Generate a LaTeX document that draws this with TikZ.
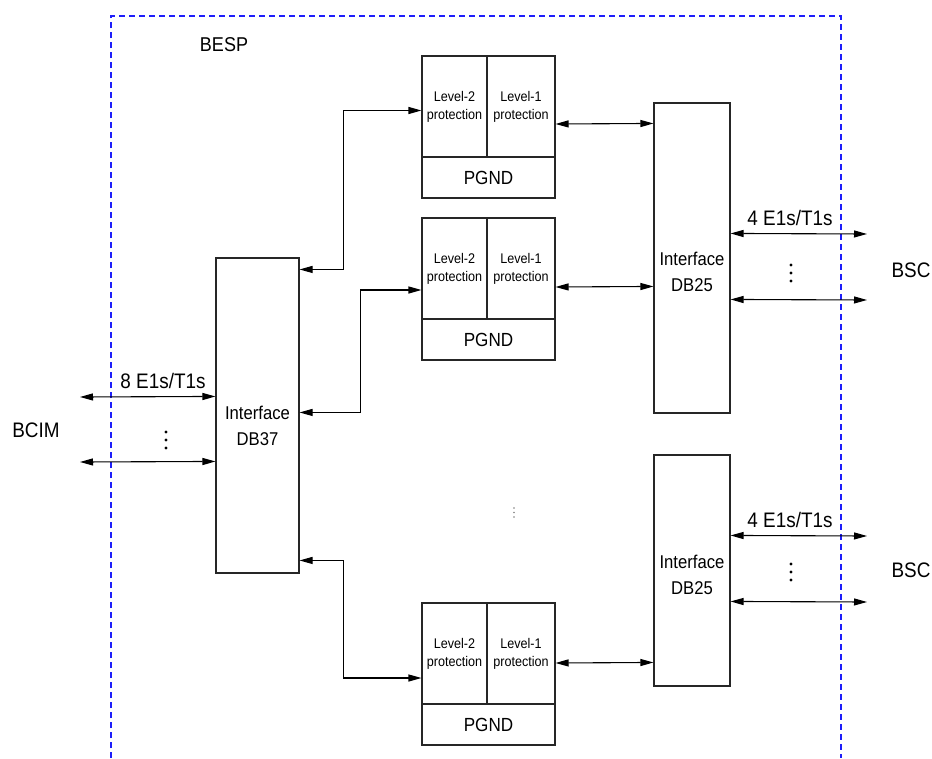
\documentclass[tikz,border=0pt]{standalone}
\usepackage{fontspec}
\setmainfont{Liberation Sans}[FakeStretch=0.9]
\usetikzlibrary{arrows.meta,calc}
\definecolor{dashblue}{RGB}{30,30,250}
\begin{document}
\begin{tikzpicture}[x=1pt,y=-1pt,
  box/.style={draw=black!85,line width=1.1pt,inner sep=0pt},
  cella/.style={box,minimum width=65,minimum height=101,align=center,font=\fontsize{14}{18}\selectfont},
  cellb/.style={box,minimum width=68,minimum height=101,align=center,font=\fontsize{14}{18}\selectfont},
  cellg/.style={box,minimum width=133,minimum height=41,font=\fontsize{19}{22}\selectfont},
  iface/.style={align=center,font=\fontsize{18.5}{26}\selectfont,inner sep=0pt},
  big/.style={font=\fontsize{21}{25}\selectfont,inner sep=0pt},
  arr/.style={line width=1.1pt,{Triangle[length=13pt,width=7pt]}-{Triangle[length=13pt,width=7pt]}},
  dashbox/.style={draw=dashblue,line width=1.1pt,dash pattern=on 6pt off 4pt}]
\useasboundingbox (0,0) rectangle (932,758);

% dashed enclosure
\draw[dashbox] (111,758) -- (111,16) -- (841,16) -- (841,758);
\node[big,font=\fontsize{20}{24}\selectfont] (besp) at (224,45) {BESP};

% protection boxes
\node[cella] (p1a) at (454.5,106.5) {Level-2\\protection};
\node[cellb] (p1b) at (521,106.5) {Level-1\\protection};
\node[cellg] (p1g) at (488.5,177.5) {PGND};

\node[cella] (p2a) at (454.5,268.5) {Level-2\\protection};
\node[cellb] (p2b) at (521,268.5) {Level-1\\protection};
\node[cellg] (p2g) at (488.5,339.5) {PGND};

\node[cella] (p3a) at (454.5,653.5) {Level-2\\protection};
\node[cellb] (p3b) at (521,653.5) {Level-1\\protection};
\node[cellg] (p3g) at (488.5,724.5) {PGND};

% interface boxes
\node[box,minimum width=83,minimum height=315] (db37) at (257.5,415.5) {};
\node[iface] (db37t) at (257.5,426) {Interface\\DB37};

\node[box,minimum width=76,minimum height=310] (db25a) at (692,258) {};
\node[iface] (db25at) at (692,271.5) {Interface\\DB25};

\node[box,minimum width=76,minimum height=231] (db25b) at (692,570.5) {};
\node[iface] (db25bt) at (692,574.5) {Interface\\DB25};

% DB37 to protection boxes
\draw[arr] ($(db37.north east)+(0,12)$) -- ++(44,0) |- ($(p1a.west)+(0,4)$);
\draw[arr] ($(db37.north east)+(0,155)$) -- ++(61,0) |- ($(p2a.west)+(0,21.5)$);
\draw[arr] ($(db37.north east)+(0,303)$) -- ++(44,0) |- ($(p3a.west)+(0,24.5)$);

% protection to DB25
\draw[arr] ($(p1b.east)+(0,17.5)$) -- ($(db25a.north west)+(0,21)$);
\draw[arr] ($(p2b.east)+(0,18.5)$) -- ($(db25a.north west)+(0,184)$);
\draw[arr] ($(p3b.east)+(0,9.5)$) -- ($(db25b.north west)+(0,208)$);

% left side links
\coordinate (l1) at (80,397);
\coordinate (l2) at (80,462);
\draw[arr] (l1) -- ($(db37.north west)+(0,139)$);
\draw[arr] (l2) -- ($(db37.north west)+(0,204)$);
\node[big] (lab8) at (163,381) {8 E1s/T1s};
\fill (166,432) circle (1.7) (166,440) circle (1.7) (166,448) circle (1.7);
\node[big] (bcim) at (36,430) {BCIM};

% right side links, upper
\coordinate (r1) at (867,234);
\coordinate (r2) at (867,300);
\draw[arr] ($(db25a.north east)+(0,131)$) -- (r1);
\draw[arr] ($(db25a.north east)+(0,197)$) -- (r2);
\node[big] (lab4a) at (790,218) {4 E1s/T1s};
\fill (791,265) circle (1.7) (791,273) circle (1.7) (791,281) circle (1.7);
\node[big] (bsca) at (911,270) {BSC};

% right side links, lower
\coordinate (r3) at (867,536);
\coordinate (r4) at (867,602);
\draw[arr] ($(db25b.north east)+(0,81)$) -- (r3);
\draw[arr] ($(db25b.north east)+(0,147)$) -- (r4);
\node[big] (lab4b) at (790,520) {4 E1s/T1s};
\fill (791,564) circle (1.7) (791,572) circle (1.7) (791,580) circle (1.7);
\node[big] (bscb) at (911,570) {BSC};

% middle ellipsis
\fill[gray] (514,508) circle (0.8) (514,512.5) circle (0.8) (514,517) circle (0.8);
\end{tikzpicture}
\end{document}
